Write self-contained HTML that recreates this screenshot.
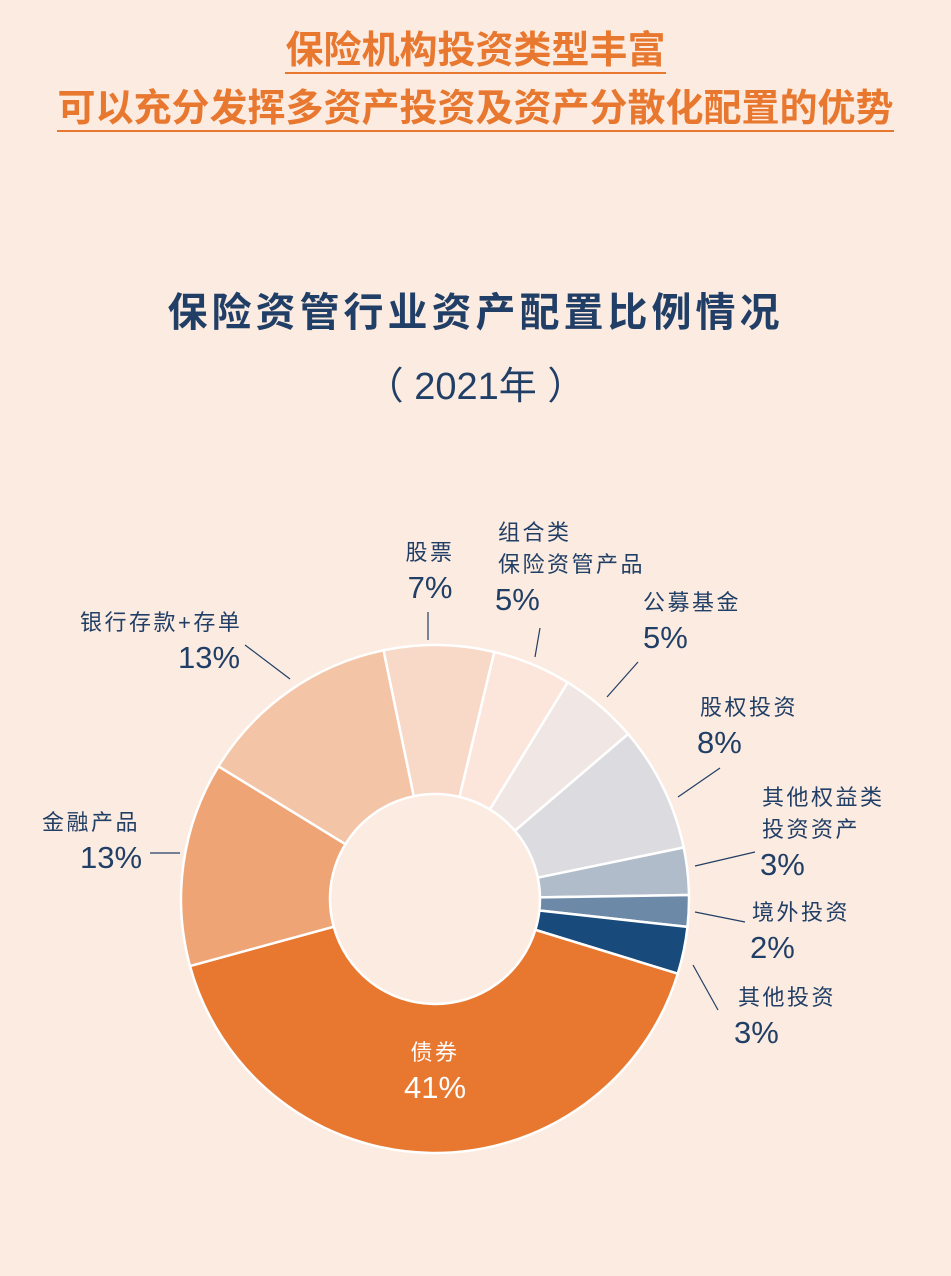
<!DOCTYPE html>
<html><head><meta charset="utf-8"><style>
html,body{margin:0;padding:0}
body{width:951px;height:1276px;background:#FCEBE0;position:relative;overflow:hidden;font-family:"Liberation Sans","Noto Sans CJK SC",sans-serif}
.h{position:absolute;left:0;width:951px;text-align:center;color:#E8782F;font-weight:bold;font-size:38px;line-height:46px}
.h span{border-bottom:2px solid #E8782F;padding-bottom:0px}
.t{position:absolute;left:0;width:951px;text-align:center;color:#213F66;font-weight:bold}
</style></head><body>
<div class="h" style="top:28px"><span>保险机构投资类型丰富</span></div>
<div class="h" style="top:86px"><span>可以充分发挥多资产投资及资产分散化配置的优势</span></div>
<div class="t" style="top:280px;font-size:40px;letter-spacing:4px">保险资管行业资产配置比例情况</div>
<div class="t" style="top:355px;font-size:38px;font-weight:normal">（ 2021年 ）</div>
<svg id="c" width="951" height="1276" style="position:absolute;left:0;top:0"></svg>
<script>
const categories=["股票","组合类|保险资管产品","公募基金","股权投资","其他权益类|投资资产","境外投资","其他投资","债券","金融产品","银行存款+存单"];
const values=[7,5,5,8,3,2,3,41,13,13];
const colors=["#F8D8C6","#FCE6DB","#F0E6E3","#DCDCE0","#B1BCCB","#6C89A7","#184A7C","#E8782F","#EFA476","#F4C4A6"];
const labelPos=[[430,560,"m",430],[498,540,"s",495],[643,610,"s",643],[700,715,"s",697],[762,805,"s",760],[752,920,"s",750],[738,1005,"s",734],[435,1060,"m",435],[42,830,"s",80],[80,630,"s",178]];
const leaders=[[428,640,428,612],[535,657,540,628],[607,697,638,662],[678,797,720,768],[695,866,755,852],[695,912,745,922],[693,965,718,1010],null,[180,853,150,853],[290,679,245,645]];
const svg=document.getElementById('c');const NS="http://www.w3.org/2000/svg";
const cx=435,cy=899,R=254,r=105,start=-11.7;
const total=values.reduce((a,b)=>a+b,0);
function pt(a,rad){const t=a*Math.PI/180;return [cx+rad*Math.sin(t),cy-rad*Math.cos(t)];}
let a0=start;
values.forEach((v,i)=>{
 const a1=a0+v/total*360;const lg=(a1-a0)>180?1:0;
 const p1=pt(a0,R),p2=pt(a1,R),p3=pt(a1,r),p4=pt(a0,r);
 const p=document.createElementNS(NS,'path');
 p.setAttribute('d',`M${p1}A${R},${R} 0 ${lg} 1 ${p2}L${p3}A${r},${r} 0 ${lg} 0 ${p4}Z`);
 p.setAttribute('fill',colors[i]);p.setAttribute('stroke','#fff');p.setAttribute('stroke-width','2.5');
 
 
 svg.appendChild(p);a0=a1;
});
labelPos.forEach((lp,i)=>{
 const lines=categories[i].split('|');const anchor=lp[2]=="m"?"middle":"start";
 const white=i==7;
 lines.forEach((ln,j)=>{const t=document.createElementNS(NS,'text');
  t.setAttribute('x',lp[0]);t.setAttribute('y',lp[1]+j*32);t.setAttribute('text-anchor',anchor);
  t.setAttribute('font-size','22');t.setAttribute('fill',white?'#fff':'#213F66');t.setAttribute('letter-spacing','2.5');t.textContent=ln;
  
  
  svg.appendChild(t);});
 const t=document.createElementNS(NS,'text');
 t.setAttribute('x',lp[3]);t.setAttribute('y',lp[1]+lines.length*32+6);t.setAttribute('text-anchor',anchor);
 t.setAttribute('font-size','31');t.setAttribute('fill',white?'#fff':'#213F66');t.textContent=values[i]+'%';
 
 
 svg.appendChild(t);
 if(leaders[i]){const l=document.createElementNS(NS,'line');const q=leaders[i];
  l.setAttribute('x1',q[0]);l.setAttribute('y1',q[1]);l.setAttribute('x2',q[2]);l.setAttribute('y2',q[3]);
  l.setAttribute('stroke','#213F66');l.setAttribute('stroke-width','1.2');
  
  
  svg.appendChild(l);}
});
</script>
</body></html>
